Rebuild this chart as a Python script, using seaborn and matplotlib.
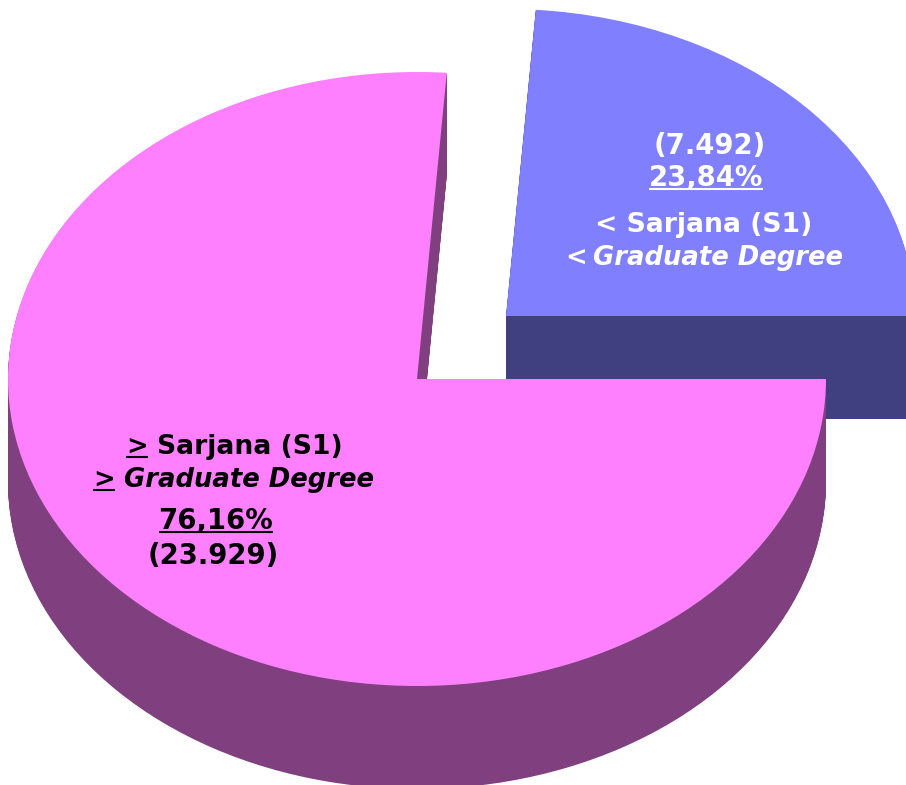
import matplotlib
matplotlib.use('Agg')
import matplotlib.pyplot as plt
import seaborn as sns

# data
shares = [23.84, 76.16]
counts = ['(7.492)', '(23.929)']
share_labels = ['23,84%', '76,16%']
top_colors = ['#8080FF', '#FF80FF']
side_colors = ['#404080', '#804080']

W, H = 906, 785
RX, RY = 409, 307
CENTER_PX = [(506, 316), (417, 379)]
DEPTH_PX = 103
FS = 18.6
FS_NUM = 19.8
FS_NAME = 19.2

sns.set_style('white')
plt.rcParams['font.family'] = ['DejaVu Sans']

fig = plt.figure(figsize=(W / 100, H / 100), dpi=100)
ax = fig.add_axes([0, 0, 1, 1])


def to_data(px, py):
    return (px - 417) / RX, (379 - py) / RY


def draw_slice(i, center, color):
    cols = [color if k == i else 'none' for k in range(len(shares))]
    ax.pie(shares, colors=cols, startangle=0, counterclock=True, center=center,
           radius=1, frame=True, wedgeprops={'linewidth': 0})


# back slice first, front slice over it; the side is a stack of dark pies
for i in range(len(shares)):
    cx, cy = to_data(*CENTER_PX[i])
    for d in range(DEPTH_PX, 0, -1):
        draw_slice(i, (cx, cy - d / RY), side_colors[i])
    draw_slice(i, (cx, cy), top_colors[i])

ax.set_aspect('auto')
ax.set_xlim(*[to_data(p, 0)[0] for p in (0, W)])
ax.set_ylim(*[to_data(0, p)[1] for p in (H, 0)])
ax.set_xticks([])
ax.set_yticks([])
ax.set_frame_on(False)

renderer = fig.canvas.get_renderer()


def label(px, base, txt, color, style='normal', ha='left', under=None, fs=FS):
    x, y = to_data(px, base)
    t = ax.text(x, y, txt, color=color, fontsize=fs, fontweight='bold', fontstyle=style,
                ha=ha, va='baseline')
    if under:
        box = t.get_window_extent(renderer)
        tmp = ax.text(x, y, under, fontsize=fs, fontweight='bold', fontstyle=style)
        w = tmp.get_window_extent(renderer).width
        tmp.remove()
        x0 = to_data(box.x0, 0)[0]
        x1 = to_data(box.x0 + w, 0)[0]
        yu = to_data(0, base + 3.2)[1]
        ax.plot([x0, x1], [yu, yu], color=color, lw=1.5, solid_capstyle='butt')
    return t


# blue slice texts
label(710, 154, counts[0], 'white', ha='center', fs=FS_NUM)
label(706, 186, share_labels[0], 'white', ha='center', under=share_labels[0], fs=FS_NUM)
label(704, 232, '< Sarjana (S1)', 'white', ha='center', fs=FS_NAME)
label(565, 265, '<', 'white')
label(593, 265, 'Graduate Degree', 'white', style='italic')

# pink slice texts
label(126, 454, '>', 'black', under='>')
label(157, 454, 'Sarjana (S1)', 'black', fs=FS_NAME)
label(93, 487, '>', 'black', under='>')
label(124, 487, 'Graduate Degree', 'black', style='italic')
label(216, 529, share_labels[1], 'black', ha='center', under=share_labels[1], fs=FS_NUM)
label(213, 564, counts[1], 'black', ha='center', fs=FS_NUM)

fig.savefig('out.png', dpi=100, facecolor='white')
